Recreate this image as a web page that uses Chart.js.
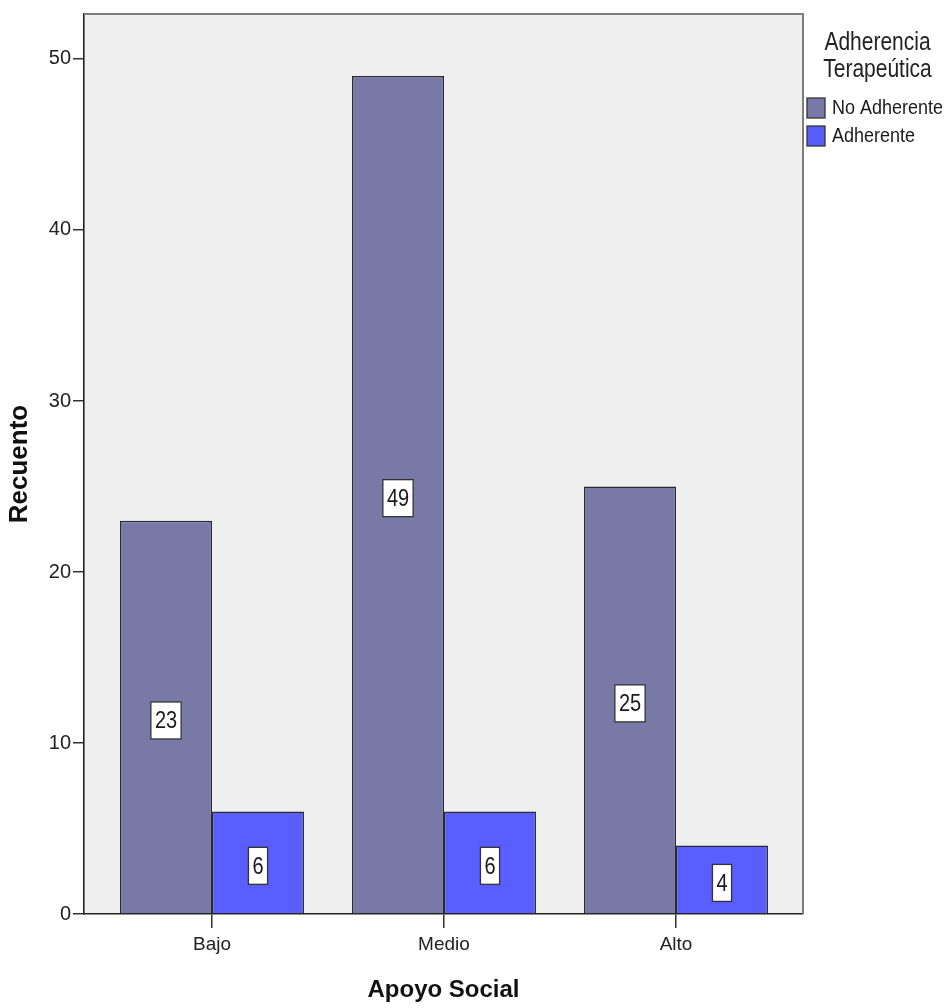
<!DOCTYPE html>
<html>
<head>
<meta charset="utf-8">
<script src="https://cdn.jsdelivr.net/npm/chart.js@4.4.1/dist/chart.umd.min.js"></script>
<style>
  html, body { margin: 0; padding: 0; background: #ffffff; }
  #wrap { width: 950px; height: 1008px; }
</style>
</head>
<body>
<div id="wrap"><canvas id="chart" width="950" height="1008"></canvas></div>
<script>
// Counts of patients by social-support level and therapeutic adherence
const categories = ['Bajo', 'Medio', 'Alto'];
const noAdherente = [23, 49, 25];
const adherente = [6, 6, 4];
const seriesNames = ['No Adherente', 'Adherente'];
const legendTitle = ['Adherencia', 'Terapeútica'];
const yTickValues = [0, 10, 20, 30, 40, 50];

const FONT = '"Liberation Sans", Arial, sans-serif';
const colors = ['#7979a8', '#5a5eff'];

const toPoints = arr => arr.map((v, i) => ({ x: i, y: v }));

// Plot background and top/right frame
const framePlugin = {
  id: 'frame',
  beforeDraw(chart) {
    const { ctx, chartArea: a } = chart;
    ctx.save();
    ctx.fillStyle = '#efefef';
    ctx.fillRect(a.left, a.top, a.right - a.left, a.bottom - a.top);
    ctx.restore();
  },
  afterDraw(chart) {
    const { ctx, chartArea: a } = chart;
    ctx.save();
    ctx.strokeStyle = '#7d7d7d';
    ctx.lineWidth = 2;
    ctx.beginPath();
    ctx.moveTo(a.left, a.top);
    ctx.lineTo(a.right, a.top);
    ctx.lineTo(a.right, a.bottom);
    ctx.stroke();
    ctx.restore();
  }
};

// Boxed value labels in the middle of each bar
const valueLabelPlugin = {
  id: 'valueLabels',
  afterDatasetsDraw(chart) {
    const ctx = chart.ctx;
    ctx.save();
    ctx.font = '20px ' + FONT;
    ctx.textAlign = 'center';
    ctx.textBaseline = 'middle';
    chart.data.datasets.forEach((ds, di) => {
      const meta = chart.getDatasetMeta(di);
      meta.data.forEach((bar, i) => {
        const text = String(ds.data[i].y);
        const cx = bar.x;
        const cy = (bar.y + bar.base) / 2 + 3.5;
        const w = ctx.measureText(text).width + 8;
        const h = 37;
        ctx.fillStyle = '#ffffff';
        ctx.fillRect(cx - w / 2, cy - h / 2, w, h);
        ctx.strokeStyle = '#333333';
        ctx.lineWidth = 1.3;
        ctx.strokeRect(cx - w / 2, cy - h / 2, w, h);
        ctx.fillStyle = '#1a1a1a';
        ctx.save();
        ctx.translate(cx, cy);
        ctx.scale(1, 1.2);
        ctx.fillText(text, 0, 1);
        ctx.restore();
      });
    });
    ctx.restore();
  }
};

// Legend on the right with a two-line title
const sideLegendPlugin = {
  id: 'sideLegend',
  afterDraw(chart) {
    const ctx = chart.ctx;
    const a = chart.chartArea;
    const left = a.right;
    const right = chart.width;
    const cx = (left + right) / 2 + 1;
    ctx.save();
    ctx.fillStyle = '#222222';
    ctx.textAlign = 'center';
    ctx.textBaseline = 'middle';
    ctx.font = '21px ' + FONT;
    legendTitle.forEach((line, i) => {
      ctx.save();
      ctx.translate(cx, 43 + i * 27);
      ctx.scale(1, 1.2);
      ctx.fillText(line, 0, 0);
      ctx.restore();
    });
    ctx.textAlign = 'left';
    ctx.font = '18px ' + FONT;
    chart.data.datasets.forEach((ds, i) => {
      const by = 98 + i * 28;
      ctx.fillStyle = ds.backgroundColor;
      ctx.fillRect(left + 4, by, 18, 20);
      ctx.strokeStyle = '#333333';
      ctx.lineWidth = 1.3;
      ctx.strokeRect(left + 4, by, 18, 20);
      ctx.fillStyle = '#1a1a1a';
      ctx.save();
      ctx.translate(left + 29, by + 10);
      ctx.scale(1, 1.15);
      ctx.fillText(ds.label, 0, 0);
      ctx.restore();
    });
    ctx.restore();
  }
};

new Chart(document.getElementById('chart'), {
  type: 'bar',
  data: {
    datasets: [
      {
        label: seriesNames[0],
        data: toPoints(noAdherente),
        backgroundColor: colors[0],
        borderColor: '#2a2a35',
        borderWidth: 1.5
      },
      {
        label: seriesNames[1],
        data: toPoints(adherente),
        backgroundColor: colors[1],
        borderColor: '#2a2a35',
        borderWidth: 1.5
      }
    ]
  },
  options: {
    responsive: false,
    animation: false,
    devicePixelRatio: 1,
    layout: { padding: { top: 13, right: 147, left: 0, bottom: 0 } },
    categoryPercentage: 0.793,
    barPercentage: 1,
    plugins: {
      legend: { display: false },
      tooltip: { enabled: false }
    },
    scales: {
      x: {
        type: 'linear',
        offset: false,
        min: -0.5517,
        max: 2.5474,
        afterBuildTicks: s => { s.ticks = categories.map((c, i) => ({ value: i })); },
        afterFit: s => { s.height = 94; },
        grid: {
          offset: false,
          drawOnChartArea: false,
          drawTicks: true,
          tickLength: 14,
          color: '#333333',
          lineWidth: 1.5
        },
        border: { display: true, color: '#222222', width: 1.6 },
        ticks: {
          padding: 5,
          color: '#222222',
          font: { family: FONT, size: 19 },
          maxRotation: 0,
          callback: (v, i) => categories[i]
        },
        title: {
          display: true,
          text: 'Apoyo Social',
          color: '#111111',
          font: { family: FONT, size: 24, weight: 'bold' },
          padding: { top: 0, bottom: 3 }
        }
      },
      y: {
        min: 0,
        max: 52.63,
        afterBuildTicks: s => { s.ticks = yTickValues.map(v => ({ value: v })); },
        afterFit: s => { s.width = 84; },
        grid: {
          drawOnChartArea: false,
          drawTicks: true,
          tickLength: 11,
          color: '#333333',
          lineWidth: 1.5
        },
        border: { display: true, color: '#222222', width: 1.6 },
        ticks: {
          padding: 2,
          color: '#222222',
          font: { family: FONT, size: 20 }
        },
        title: {
          display: true,
          text: 'Recuento',
          color: '#111111',
          font: { family: FONT, size: 26, weight: 'bold' },
          padding: { top: 4, bottom: 0 }
        }
      }
    }
  },
  plugins: [framePlugin, valueLabelPlugin, sideLegendPlugin]
});
</script>
</body>
</html>
